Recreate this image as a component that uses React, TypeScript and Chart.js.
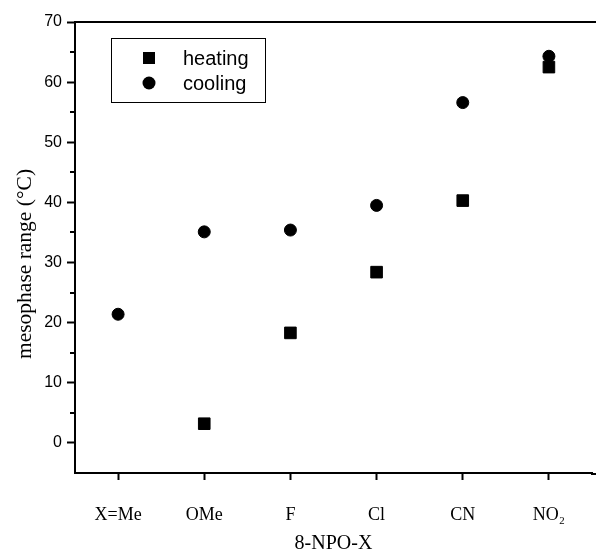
import React, { useEffect, useRef } from "react";
import { Chart, registerables } from "chart.js";

Chart.register(...registerables);

const categories = ["X=Me", "OMe", "F", "Cl", "CN", "NO\u2082"];
const heating = [null, 3.2, 18.3, 28.4, 40.3, 62.5];
const cooling = [21.4, 35.1, 35.4, 39.5, 56.6, 64.3];
const majorTicks = [0, 10, 20, 30, 40, 50, 60, 70];
const minorTicks = [5, 15, 25, 35, 45, 55, 65];

const SERIF = "'Liberation Serif', 'Times New Roman', serif";
const SANS = "'Liberation Sans', Arial, sans-serif";

const framePlugin = {
  id: "frame",
  afterDraw(chart: any) {
    const { ctx, chartArea } = chart;
    const y = chart.scales.y;
    ctx.save();
    ctx.strokeStyle = "#000";
    ctx.lineWidth = 2;
    // top border
    ctx.beginPath();
    ctx.moveTo(chartArea.left - 1, chartArea.top);
    ctx.lineTo(chart.width, chartArea.top);
    ctx.stroke();
    // bottom axis continues to the edge
    ctx.beginPath();
    ctx.moveTo(chartArea.right - 1, chartArea.bottom + 1);
    ctx.lineTo(chart.width, chartArea.bottom + 1);
    ctx.stroke();
    // minor ticks on y
    minorTicks.forEach((v) => {
      const py = Math.round(y.getPixelForValue(v));
      ctx.beginPath();
      ctx.moveTo(chartArea.left - 5, py);
      ctx.lineTo(chartArea.left, py);
      ctx.stroke();
    });
    // y title
    ctx.fillStyle = "#000";
    ctx.font = `21.5px ${SERIF}`;
    ctx.translate(25, 264);
    ctx.rotate(-Math.PI / 2);
    ctx.textAlign = "center";
    ctx.textBaseline = "middle";
    ctx.fillText("mesophase range (\u00B0C)", 0, 0);
    ctx.restore();

    // legend
    ctx.save();
    const bx = chartArea.left + 36;
    const by = chartArea.top + 16;
    ctx.strokeStyle = "#000";
    ctx.lineWidth = 1;
    ctx.strokeRect(bx + 0.5, by + 0.5, 154, 64);
    ctx.font = `20px ${SANS}`;
    ctx.fillStyle = "#000";
    ctx.textBaseline = "middle";
    ctx.textAlign = "left";
    chart.data.datasets.forEach((ds: any, i: number) => {
      const cy = by + 20 + i * 25;
      const cx = bx + 38;
      if (ds.pointStyle === "rect") {
        ctx.fillRect(cx - 6, cy - 6, 12, 12);
      } else {
        ctx.beginPath();
        ctx.arc(cx, cy, 6.5, 0, Math.PI * 2);
        ctx.fill();
      }
      ctx.fillText(ds.label, bx + 72, cy + 1);
    });
    ctx.restore();
  },
};

export default function App() {
  const ref = useRef<HTMLCanvasElement | null>(null);
  useEffect(() => {
    if (!ref.current) return;
    const chart = new Chart(ref.current, {
      type: "line",
      data: {
        labels: categories,
        datasets: [
          {
            label: "heating",
            data: heating,
            showLine: false,
            pointStyle: "rect",
            pointRadius: 8.2,
            borderWidth: 1,
            backgroundColor: "#000",
            borderColor: "#000",
          },
          {
            label: "cooling",
            data: cooling,
            showLine: false,
            pointStyle: "circle",
            pointRadius: 6,
            borderWidth: 1,
            backgroundColor: "#000",
            borderColor: "#000",
          },
        ] as any,
      },
      options: {
        responsive: false,
        animation: false,
        layout: { autoPadding: false, padding: { top: 22, right: 4, left: 0, bottom: 0 } },
        plugins: { legend: { display: false }, tooltip: { enabled: false } },
        scales: {
          x: {
            type: "category",
            offset: true,
            grid: {
              display: true,
              offset: false,
              drawOnChartArea: false,
              drawTicks: true,
              tickLength: 7,
              tickColor: "#000",
              tickWidth: 2,
              color: "#000",
            },
            border: { display: true, color: "#000", width: 2 },
            ticks: {
              color: "#000",
              font: { family: SERIF, size: 18 },
              padding: 24,
              maxRotation: 0,
              autoSkip: false,
            },
            title: {
              display: true,
              text: "8-NPO-X",
              color: "#000",
              font: { family: SERIF, size: 20, lineHeight: 1 },
              padding: { top: 0, bottom: -2 },
            },
            afterFit: (scale: any) => {
              scale.height = 79;
              scale.paddingLeft = 0;
              scale.paddingRight = 0;
            },
          },
          y: {
            type: "linear",
            min: -5,
            max: 70,
            afterBuildTicks: (scale: any) => {
              scale.ticks = majorTicks.map((v) => ({ value: v }));
            },
            grid: {
              display: true,
              drawOnChartArea: false,
              drawTicks: true,
              tickLength: 8,
              tickColor: "#000",
              tickWidth: 2,
              color: "#000",
            },
            border: { display: true, color: "#000", width: 2 },
            ticks: {
              color: "#000",
              font: { family: SANS, size: 16 },
              padding: 5,
            },
            afterFit: (scale: any) => {
              scale.width = 75;
              scale.paddingTop = 0;
              scale.paddingBottom = 0;
            },
          },
        },
      },
      plugins: [framePlugin],
    });
    return () => chart.destroy();
  }, []);
  return (
    <div style={{ position: "absolute", left: 0, top: 0, width: 596, height: 552, background: "#fff" }}>
      <canvas ref={ref} width={596} height={552} style={{ display: "block" }} />
    </div>
  );
}
